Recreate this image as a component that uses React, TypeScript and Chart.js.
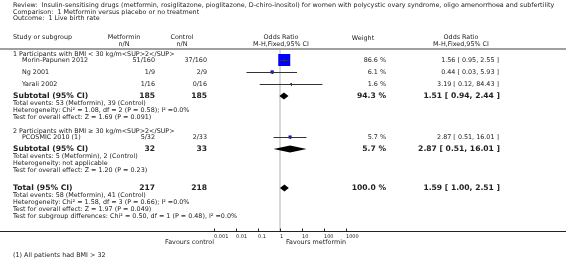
import React, { useEffect, useRef } from "react";
import { Chart, registerables } from "chart.js";

Chart.register(...registerables);

const W = 566;
const H = 260;

// ---------- data ----------
const headerLines = [
  "Review:  Insulin-sensitising drugs (metformin, rosiglitazone, pioglitazone, D-chiro-inositol) for women with polycystic ovary syndrome, oligo amenorrhoea and subfertility",
  "Comparison:  1 Metformin versus placebo or no treatment",
  "Outcome:  1 Live birth rate",
];
const groupTitles = [
  "1 Participants with BMI < 30 kg/m<SUP>2</SUP>",
  "2 Participants with BMI \u2265 30 kg/m<SUP>2</SUP>",
];
const studyNames = ["Morin-Papunen 2012", "Ng 2001", "Yarali 2002", "PCOSMIC 2010 (1)"];
const studyGroup = [0, 0, 0, 1];
const studyMetformin = ["51/160", "1/9", "1/16", "5/32"];
const studyControl = ["37/160", "2/9", "0/16", "2/33"];
const studyOR = [1.56, 0.44, 3.19, 2.87];
const studyLow = [0.95, 0.03, 0.12, 0.51];
const studyHigh = [2.55, 5.93, 84.43, 16.01];
const studyWeight = [86.6, 6.1, 1.6, 5.7];

const summaryLabels = ["Subtotal (95% CI)", "Subtotal (95% CI)", "Total (95% CI)"];
const summaryMetformin = [185, 32, 217];
const summaryControl = [185, 33, 218];
const summaryOR = [1.51, 2.87, 1.59];
const summaryLow = [0.94, 0.51, 1.0];
const summaryHigh = [2.44, 16.01, 2.51];
const summaryWeight = [94.3, 5.7, 100.0];
const summaryNotes = [
  [
    "Total events: 53 (Metformin), 39 (Control)",
    "Heterogeneity: Chi\u00b2 = 1.08, df = 2 (P = 0.58); I\u00b2 =0.0%",
    "Test for overall effect: Z = 1.69 (P = 0.091)",
  ],
  [
    "Total events: 5 (Metformin), 2 (Control)",
    "Heterogeneity: not applicable",
    "Test for overall effect: Z = 1.20 (P = 0.23)",
  ],
  [
    "Total events: 58 (Metformin), 41 (Control)",
    "Heterogeneity: Chi\u00b2 = 1.58, df = 3 (P = 0.66); I\u00b2 =0.0%",
    "Test for overall effect: Z = 1.97 (P = 0.049)",
    "Test for subgroup differences: Chi\u00b2 = 0.50, df = 1 (P = 0.48), I\u00b2 =0.0%",
  ],
];
const xTicks = [0.001, 0.01, 0.1, 1, 10, 100, 1000];
const xTickLabels = ["0.001", "0.01", "0.1", "1", "10", "100", "1000"];
const favoursLeft = "Favours control";
const favoursRight = "Favours metformin";
const footnote = "(1) All patients had BMI > 32";

// ---------- layout (row spacing in y-axis units) ----------
const TITLE_TO_STUDY = 6;
const STUDY_STEP = 12;
const NOTE_STEP = 7;
const GROUP_GAP = 14;
const TOTAL_GAP = 18;
const Y_MAX = 182;

function buildRows() {
  let y = 5;
  const titleY: number[] = [];
  const studyY: number[] = new Array(studyNames.length).fill(0);
  const sumY: number[] = [];
  const noteY: number[][] = [];
  for (let g = 0; g < groupTitles.length; g++) {
    titleY.push(y);
    y += TITLE_TO_STUDY;
    studyNames.forEach((_, i) => {
      if (studyGroup[i] === g) {
        studyY[i] = y;
        y += STUDY_STEP;
      }
    });
    sumY.push(y);
    const ny: number[] = [];
    summaryNotes[g].forEach(() => {
      y += NOTE_STEP;
      ny.push(y);
    });
    noteY.push(ny);
    y += g < groupTitles.length - 1 ? GROUP_GAP : TOTAL_GAP;
  }
  sumY.push(y);
  const ny: number[] = [];
  summaryNotes[2].forEach(() => {
    y += NOTE_STEP;
    ny.push(y);
  });
  noteY.push(ny);
  return { titleY, studyY, sumY, noteY };
}

const SMALL = "6.4px 'DejaVu Sans'";
const BOLD = "bold 7.6px 'DejaVu Sans'";
const TICKF = "5px 'DejaVu Sans'";
const TXT = "#222";

export default function App() {
  const ref = useRef<HTMLCanvasElement>(null);

  useEffect(() => {
    document.body.style.margin = "0";
    const canvas = ref.current!;
    const rows = buildRows();
    const squareK = 12 / Math.sqrt(86.6);

    const forestPlugin = {
      id: "forest",
      beforeDatasetsDraw(chart: any) {
        const { ctx, chartArea, scales } = chart;
        const x1 = Math.round(scales.x.getPixelForValue(1));
        ctx.save();
        ctx.strokeStyle = "#d8d8d8";
        ctx.lineWidth = 2;
        ctx.beginPath();
        ctx.moveTo(x1, chartArea.top);
        ctx.lineTo(x1, chartArea.bottom);
        ctx.stroke();
        ctx.restore();
      },
      afterDatasetsDraw(chart: any) {
        const { ctx, scales } = chart;
        const xs = scales.x;
        const ys = scales.y;
        ctx.save();
        ctx.strokeStyle = "#333";
        ctx.lineWidth = 1;
        studyNames.forEach((_, i) => {
          const py = Math.round(ys.getPixelForValue(rows.studyY[i])) + 0.5;
          ctx.beginPath();
          ctx.moveTo(xs.getPixelForValue(studyLow[i]), py);
          ctx.lineTo(xs.getPixelForValue(studyHigh[i]), py);
          ctx.stroke();
          const px = xs.getPixelForValue(studyOR[i]);
          ctx.beginPath();
          ctx.moveTo(Math.round(px) + 0.5, py - 1.5);
          ctx.lineTo(Math.round(px) + 0.5, py + 1.5);
          ctx.stroke();
        });
        ctx.fillStyle = "#000";
        summaryOR.forEach((v, i) => {
          const py = ys.getPixelForValue(rows.sumY[i]);
          const l = xs.getPixelForValue(summaryLow[i]);
          const r = xs.getPixelForValue(summaryHigh[i]);
          const c = xs.getPixelForValue(v);
          ctx.beginPath();
          ctx.moveTo(l, py);
          ctx.lineTo(c, py - 3.5);
          ctx.lineTo(r, py);
          ctx.lineTo(c, py + 3.5);
          ctx.closePath();
          ctx.fill();
        });
        ctx.restore();
      },
      afterDraw(chart: any) {
        const { ctx, chartArea, scales } = chart;
        const xs = scales.x;
        const ys = scales.y;
        const top = chartArea.top;
        const bottom = chartArea.bottom;
        const Y = (v: number) => ys.getPixelForValue(v);
        const t = (s: string, x: number, y: number, align: CanvasTextAlign, font: string) => {
          ctx.font = font;
          ctx.textAlign = align;
          ctx.fillText(s, x, y);
        };
        ctx.save();
        ctx.fillStyle = TXT;
        ctx.textBaseline = "middle";

        headerLines.forEach((s, i) => t(s, 13, 5.5 + i * 6.5, "left", SMALL));

        const h1 = top - 11.5;
        const h2 = top - 5;
        const xOne = xs.getPixelForValue(1);
        t("Study or subgroup", 13, h1, "left", SMALL);
        t("Metformin", 124, h1, "center", SMALL);
        t("n/N", 124, h2, "center", SMALL);
        t("Control", 182, h1, "center", SMALL);
        t("n/N", 182, h2, "center", SMALL);
        t("Odds Ratio", xOne + 1, h1, "center", SMALL);
        t("M-H,Fixed,95% CI", xOne + 1, h2, "center", SMALL);
        t("Weight", 363, h1 + 0.5, "center", SMALL);
        t("Odds Ratio", 461, h1, "center", SMALL);
        t("M-H,Fixed,95% CI", 461, h2, "center", SMALL);

        ctx.strokeStyle = "#a0a0a0";
        ctx.lineWidth = 2;
        ctx.beginPath();
        ctx.moveTo(0, top);
        ctx.lineTo(W, top);
        ctx.stroke();

        groupTitles.forEach((s, g) => t(s, 13, Y(rows.titleY[g]), "left", SMALL));

        studyNames.forEach((s, i) => {
          const y = Y(rows.studyY[i]);
          t(s, 22, y, "left", SMALL);
          t(studyMetformin[i], 155, y, "right", SMALL);
          t(studyControl[i], 207, y, "right", SMALL);
          t(studyWeight[i].toFixed(1) + " %", 386, y, "right", SMALL);
          t(
            `${studyOR[i].toFixed(2)} [ ${studyLow[i].toFixed(2)}, ${studyHigh[i].toFixed(2)} ]`,
            499,
            y,
            "right",
            SMALL
          );
        });

        summaryLabels.forEach((s, i) => {
          const y = Y(rows.sumY[i]);
          t(s, 13, y, "left", BOLD);
          t(String(summaryMetformin[i]), 155, y, "right", BOLD);
          t(String(summaryControl[i]), 207, y, "right", BOLD);
          t(summaryWeight[i].toFixed(1) + " %", 386, y, "right", BOLD);
          t(
            `${summaryOR[i].toFixed(2)} [ ${summaryLow[i].toFixed(2)}, ${summaryHigh[i].toFixed(2)} ]`,
            500,
            y,
            "right",
            BOLD
          );
          summaryNotes[i].forEach((n, k) => t(n, 13, Y(rows.noteY[i][k]), "left", SMALL));
        });

        ctx.strokeStyle = "#222";
        ctx.lineWidth = 1;
        const ay = Math.round(bottom) + 0.5;
        ctx.beginPath();
        ctx.moveTo(0, ay);
        ctx.lineTo(W, ay);
        ctx.stroke();
        xTicks.forEach((v, i) => {
          const px = Math.round(xs.getPixelForValue(v)) + 0.5;
          ctx.beginPath();
          ctx.moveTo(px, ay);
          ctx.lineTo(px, ay - 3);
          ctx.stroke();
          t(xTickLabels[i], px - 0.5, ay + 5, "left", TICKF);
        });
        t(favoursLeft, xs.getPixelForValue(xTicks[0]), ay + 11, "right", SMALL);
        t(favoursRight, xs.getPixelForValue(xTicks[xTicks.length - 1]), ay + 11, "right", SMALL);

        t(footnote, 13, 255, "left", SMALL);
        ctx.restore();
      },
    };

    const chart = new Chart(canvas, {
      type: "scatter",
      data: {
        datasets: [
          {
            data: studyOR.map((v, i) => ({ x: v, y: rows.studyY[i] })),
            pointStyle: "rect",
            pointRadius: studyWeight.map((w) => (squareK * Math.sqrt(w)) / Math.SQRT2),
            backgroundColor: "#0000ff",
            borderWidth: 0,
            pointBorderWidth: 0,
          } as any,
        ],
      },
      options: {
        responsive: false,
        animation: false,
        events: [],
        devicePixelRatio: 1,
        layout: { padding: { left: 214, right: W - 346, top: 49, bottom: H - 231 } },
        plugins: { legend: { display: false }, tooltip: { enabled: false } },
        scales: {
          x: { type: "logarithmic", min: 0.001, max: 1000, display: false },
          y: { type: "linear", min: 0, max: Y_MAX, reverse: true, display: false },
        },
      },
      plugins: [forestPlugin],
    });
    return () => chart.destroy();
  }, []);

  return (
    <div style={{ position: "absolute", left: 0, top: 0, width: W, height: H, background: "#fff" }}>
      <canvas ref={ref} width={W} height={H} style={{ display: "block", width: W, height: H }} />
    </div>
  );
}
